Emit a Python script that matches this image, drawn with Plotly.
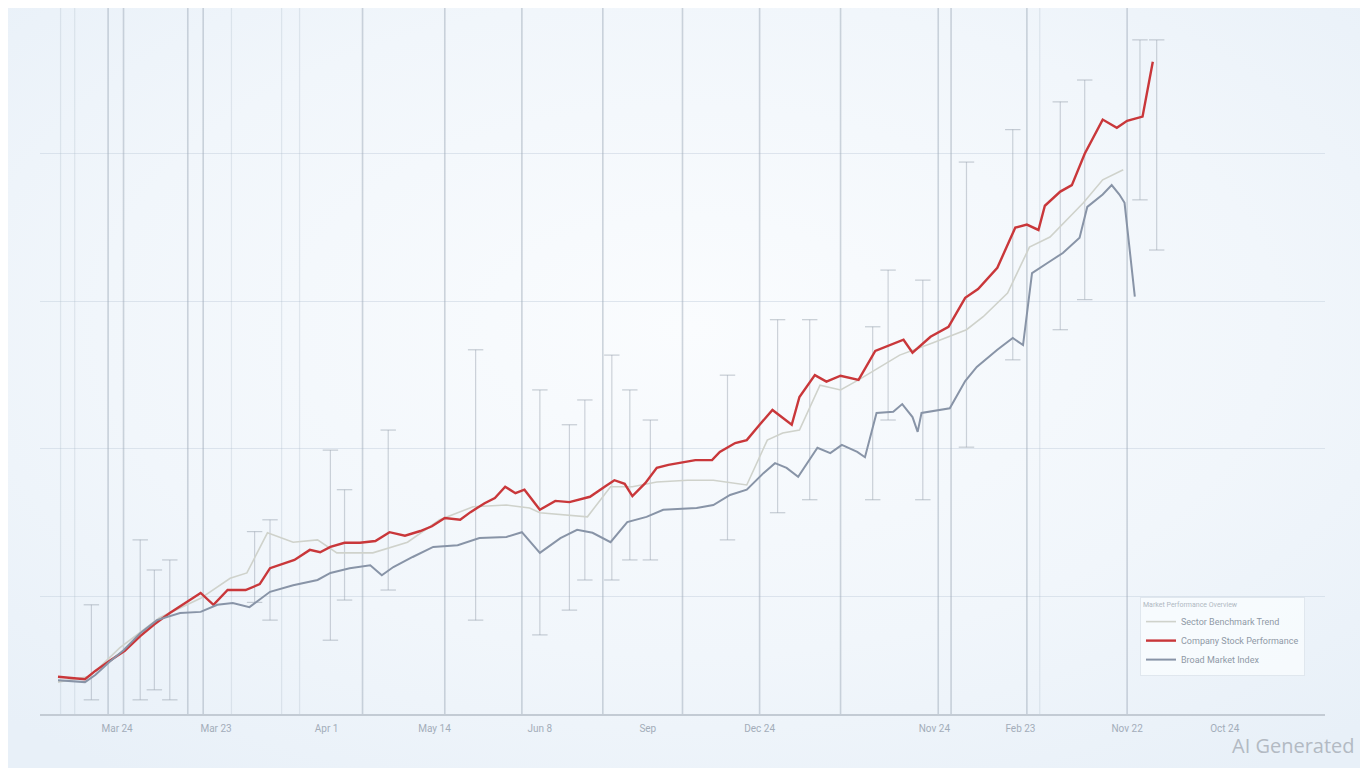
import base64
import plotly.graph_objects as go

# ---------------- data ----------------
# Company stock (red)
red_x = [1.4, 2.3, 3.5, 4.3, 5.4, 6.6, 7.8, 8.9, 10.1, 11.3, 12.5, 13.5, 14.6, 16.0, 17.1, 17.9,
         19.1, 19.8, 21.0, 21.8, 22.6, 23.7, 24.9, 26.1, 27.2, 28.4, 29.6, 30.5, 31.5, 32.7, 33.5,
         34.6, 35.4, 36.2, 37.0, 37.7, 38.9, 40.1, 41.2, 42.8, 44.0, 44.7, 45.5, 46.1, 47.1, 48.0,
         48.9, 49.8, 51.0, 52.3, 52.9, 54.1, 55.0, 56.0, 57.0, 58.5, 59.1, 60.3, 61.2, 62.3, 63.7,
         65.0, 66.1, 67.2, 67.9, 69.3, 70.7, 72.0, 73.0, 74.5, 75.9, 76.8, 77.7, 78.2, 79.4, 80.3,
         81.3, 82.7, 83.8, 84.6, 85.8, 86.6]
red_y = [11.4, 11.2, 11.0, 12.4, 14.1, 15.8, 18.3, 20.3, 22.2, 23.9, 25.6, 23.6, 26.1, 26.1, 27.1, 29.8,
         30.7, 31.2, 32.9, 32.5, 33.4, 34.1, 34.1, 34.4, 35.9, 35.3, 36.1, 36.9, 38.3, 38.0, 39.3,
         40.8, 41.7, 43.6, 42.5, 43.1, 39.7, 41.2, 41.0, 41.9, 43.7, 44.7, 44.1, 42.0, 44.2, 46.8,
         47.3, 47.6, 48.1, 48.1, 49.5, 51.0, 51.5, 54.1, 56.6, 54.1, 58.8, 62.5, 61.4, 62.4, 61.7,
         66.6, 67.6, 68.5, 66.3, 69.0, 70.7, 75.6, 77.1, 80.7, 87.5, 88.0, 87.1, 91.2, 93.6, 94.7,
         100.0, 105.8, 104.4, 105.6, 106.3, 115.6]

# Broad market index (blue-grey)
mkt_x = [1.4, 2.3, 3.5, 4.3, 5.4, 6.5, 7.8, 9.1, 10.9, 12.5, 13.8, 15.0, 16.3, 17.9, 19.7, 21.6,
         22.6, 24.1, 25.7, 26.6, 27.5, 29.0, 30.6, 32.5, 34.2, 36.3, 37.5, 38.9, 40.5, 41.8, 43.0,
         44.4, 45.7, 47.2, 48.5, 51.1, 52.4, 53.7, 55.0, 56.3, 57.2, 58.1, 59.0, 60.5, 61.5, 62.4,
         63.6, 64.2, 65.1, 66.4, 67.1, 67.9, 68.3, 68.6, 70.8, 72.0, 72.9, 74.5, 75.7, 76.5, 77.2,
         78.4, 79.6, 80.9, 81.5, 82.7, 83.4, 84.0, 84.4, 85.2]
mkt_y = [10.8, 10.7, 10.5, 11.7, 13.9, 15.9, 18.8, 21.0, 22.2, 22.4, 23.6, 23.9, 23.2, 25.8, 26.9, 27.8,
         29.0, 29.8, 30.3, 28.6, 30.0, 31.7, 33.4, 33.7, 34.9, 35.1, 35.9, 32.4, 34.9, 36.3, 35.8,
         34.2, 37.6, 38.5, 39.7, 40.0, 40.5, 42.2, 43.1, 45.9, 47.6, 46.8, 45.3, 50.2, 49.3, 50.7,
         49.5, 48.6, 56.1, 56.3, 57.6, 55.4, 52.9, 56.1, 56.9, 61.5, 63.9, 66.8, 68.8, 67.6, 79.8,
         81.5, 83.2, 85.8, 91.0, 93.1, 94.7, 93.1, 91.7, 75.8]

# Sector benchmark (light)
bench_x = [1.4, 3.9, 6.2, 9.3, 12.5, 14.8, 16.1, 17.7, 19.7, 21.6, 23.1, 25.9, 28.6, 31.1, 33.7,
           36.3, 38.1, 38.9, 42.6, 44.4, 46.1, 48.0, 50.4, 52.4, 55.0, 56.6, 57.8, 59.1, 60.7, 62.3,
           63.7, 64.8, 66.9, 69.5, 72.1, 73.4, 75.3, 77.0, 78.6, 81.2, 82.7, 84.3]
bench_y = [10.5, 11.5, 16.3, 21.4, 24.7, 28.1, 29.0, 35.8, 34.2, 34.6, 32.4, 32.4, 34.2, 38.0, 40.2,
           40.5, 40.0, 39.2, 38.5, 43.6, 43.6, 44.4, 44.7, 44.7, 43.9, 51.5, 52.7, 53.2, 60.8, 60.0,
           61.7, 63.1, 65.9, 68.0, 70.2, 72.4, 76.4, 84.2, 85.9, 91.7, 95.6, 97.3]

# full-height reference lines
ref_lines = [5.3, 6.5, 11.5, 12.7, 25.1, 31.5, 37.5, 43.8, 50.0, 56.0, 62.3, 69.9, 70.9, 76.8, 84.6]
ref_lines_light = [1.6, 2.7, 14.9, 18.8, 20.2, 77.8]

# whiskers (range markers): position, low, high
wk_x = [4.0, 7.8, 8.9, 10.1, 16.7, 17.9, 22.6, 23.7, 27.1, 33.9, 38.9, 41.2, 42.4, 44.5, 45.9,
        47.5, 53.5, 57.4, 59.9, 64.8, 66.0, 68.7, 72.1, 75.7, 79.4, 81.3, 85.6, 86.9]
wk_lo = [7.5, 7.5, 9.2, 7.5, 24.0, 21.0, 17.6, 24.4, 26.1, 21.0, 18.5, 22.7, 27.8, 27.8, 31.2,
         31.2, 34.6, 39.2, 41.4, 41.4, 54.9, 41.4, 50.3, 65.1, 70.2, 75.3, 92.2, 83.7]
wk_hi = [23.6, 34.6, 29.5, 31.2, 36.0, 38.0, 49.8, 43.1, 53.2, 66.8, 60.0, 54.1, 58.3, 65.9, 60.0,
         54.9, 62.5, 71.9, 71.9, 70.7, 80.3, 78.6, 98.6, 104.1, 108.8, 112.5, 119.3, 119.3]

tick_pos = [6.0, 13.7, 22.3, 30.7, 38.9, 47.3, 56.0, 69.6, 76.3, 84.6, 92.2]
tick_text = ["Mar 24", "Mar 23", "Apr 1", "May 14", "Jun 8", "Sep", "Dec 24",
             "Nov 24", "Feb 23", "Nov 22", "Oct 24"]

series_names = ["Sector Benchmark Trend", "Company Stock Performance", "Broad Market Index"]

Y_MIN, Y_MAX = 5.1, 124.7
X_MIN, X_MAX = 0.0, 100.0

# ---------------- figure ----------------
fig = go.Figure()


def segs(xs, lo, hi):
    X, Y = [], []
    for x, a, b in zip(xs, lo, hi):
        X += [x, x, None]
        Y += [a, b, None]
    return X, Y


# full height lines
X, Y = segs(ref_lines, [Y_MIN] * len(ref_lines), [Y_MAX] * len(ref_lines))
fig.add_trace(go.Scatter(x=X, y=Y, mode="lines", line=dict(color="rgba(160,172,186,0.5)", width=1.6),
                         hoverinfo="skip", showlegend=False))
X, Y = segs(ref_lines_light, [Y_MIN] * len(ref_lines_light), [Y_MAX] * len(ref_lines_light))
fig.add_trace(go.Scatter(x=X, y=Y, mode="lines", line=dict(color="rgba(170,182,196,0.28)", width=1.2),
                         hoverinfo="skip", showlegend=False))

# whiskers
X, Y = segs(wk_x, wk_lo, wk_hi)
fig.add_trace(go.Scatter(x=X, y=Y, mode="lines", line=dict(color="rgba(150,160,172,0.45)", width=1.2),
                         hoverinfo="skip", showlegend=False))
fig.add_trace(go.Scatter(x=wk_x + wk_x, y=wk_lo + wk_hi, mode="markers",
                         marker=dict(symbol="line-ew-open", size=11, color="rgba(150,160,172,0.5)",
                                     line=dict(color="rgba(150,160,172,0.5)", width=1.2)),
                         hoverinfo="skip", showlegend=False))

# series
fig.add_trace(go.Scatter(x=bench_x, y=bench_y, mode="lines", name=series_names[0],
                         line=dict(color="#cfd2cb", width=1.6)))
fig.add_trace(go.Scatter(x=red_x, y=red_y, mode="lines", name=series_names[1],
                         line=dict(color="#c9373a", width=2.4)))
fig.add_trace(go.Scatter(x=mkt_x, y=mkt_y, mode="lines", name=series_names[2],
                         line=dict(color="#8894a7", width=2)))

# page offset of the plot div (browser body margin) is 8 px, so the figure is 1360x760
W, H = 1360, 760
ML, MR, MT, MB = 32, 43, 0, 54
pw, ph = W - ML - MR, H - MT - MB

svg = ('<svg xmlns="http://www.w3.org/2000/svg" width="1360" height="760">'
       '<defs><radialGradient id="g" cx="50%" cy="42%" r="72%">'
       '<stop offset="0%" stop-color="#fafcfe"/><stop offset="60%" stop-color="#f1f6fb"/>'
       '<stop offset="100%" stop-color="#e8f0f8"/></radialGradient></defs>'
       '<rect width="1360" height="760" fill="url(#g)"/></svg>')
src = "data:image/svg+xml;base64," + base64.b64encode(svg.encode()).decode()

fig.add_layout_image(dict(source=src, xref="paper", yref="paper",
                          x=-ML / pw, y=1 + MT / ph, sizex=W / pw, sizey=H / ph,
                          xanchor="left", yanchor="top", sizing="stretch", layer="below"))

fig.add_annotation(text="AI Generated", xref="paper", yref="paper",
                   x=(1349 - ML) / pw, y=(ph - (737 - MT)) / ph, xanchor="right", yanchor="middle",
                   showarrow=False, font=dict(family="Open Sans, Roboto, sans-serif", size=20, color="#b3bac3"))

fig.update_layout(
    width=W, height=H,
    margin=dict(l=ML, r=MR, t=MT, b=MB),
    paper_bgcolor="#edf3f9",
    plot_bgcolor="rgba(0,0,0,0)",
    font=dict(family="Roboto, sans-serif", color="#9aa4b0"),
    legend=dict(x=(1132 - ML) / pw, y=(ph - (589 - MT)) / ph, xanchor="left", yanchor="top",
                bgcolor="rgba(248,251,254,0.85)", bordercolor="#e0e7ee", borderwidth=1,
                font=dict(size=9, color="#8f99a6"),
                title=dict(text="Market Performance Overview", font=dict(size=7, color="#b0b8c2")),
                itemwidth=30, tracegroupgap=0),
    xaxis=dict(range=[X_MIN, X_MAX], tickmode="array", tickvals=tick_pos, ticktext=tick_text,
               showgrid=False, zeroline=False, showline=True, linecolor="#c3cbd4", linewidth=1.5,
               tickfont=dict(size=10, color="#a3adb9"), ticks="", ticklabelstandoff=4),
    yaxis=dict(range=[Y_MIN, Y_MAX], tickvals=[25, 50, 75, 100], showticklabels=False,
               showgrid=True, gridcolor="rgba(200,212,224,0.55)", gridwidth=1, zeroline=False,
               showline=False),
)

fig.write_html("out.html")
